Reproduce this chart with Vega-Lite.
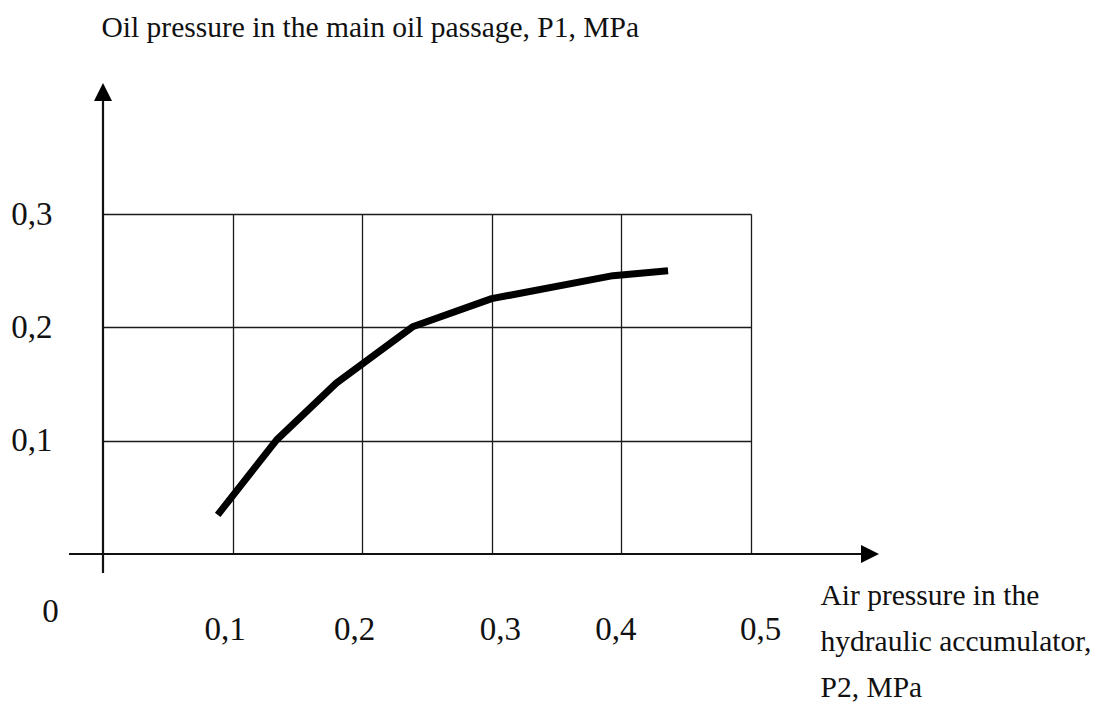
{
  "$schema": "https://vega.github.io/schema/vega-lite/v6.json",
  "width": 648,
  "height": 340,
  "autosize": {"type": "none"},
  "padding": {"left": 103, "top": 214, "right": 348, "bottom": 153},
  "background": "white",
  "config": {"view": {"stroke": null}, "font": "Liberation Serif"},
  "data": {"values": [
    {"p2": 0.0885, "p1": 0.0345},
    {"p2": 0.134, "p1": 0.1007},
    {"p2": 0.180, "p1": 0.1508},
    {"p2": 0.2394, "p1": 0.2008},
    {"p2": 0.2999, "p1": 0.2253},
    {"p2": 0.3935, "p1": 0.2456},
    {"p2": 0.436, "p1": 0.25}
  ]},
  "layer": [
    {
      "mark": {"type": "line", "color": "#000", "strokeWidth": 7, "strokeCap": "butt", "strokeJoin": "round", "clip": false},
      "encoding": {
        "x": {
          "field": "p2", "type": "quantitative",
          "scale": {"domain": [0, 0.5], "nice": false, "zero": false},
          "axis": {
            "values": [0.1, 0.2, 0.3, 0.4, 0.5],
            "domain": false, "ticks": false,
            "grid": true, "gridColor": "#1a1a1a", "gridWidth": 1.3, "gridOpacity": 1,
            "labelExpr": "replace(format(datum.value, '.1f'), '.', ',')",
            "labelFont": "Liberation Serif", "labelFontSize": 33, "labelColor": "#111",
            "labelPadding": 59, "labelBaseline": "top", "labelAlign": "center",
            "labelOffset": {"condition": [
              {"test": "abs(datum.value - 0.3) < 0.01", "value": 8},
              {"test": "abs(datum.value - 0.4) < 0.01", "value": -6},
              {"test": "abs(datum.value - 0.5) < 0.01", "value": 9}
            ], "value": -8},
            "labelOverlap": false, "labelFlush": false, "labelBound": false,
            "title": ["Air pressure in the", "hydraulic accumulator,", "P2, MPa"],
            "titleFont": "Liberation Serif", "titleFontSize": 29.5, "titleFontWeight": "normal", "titleColor": "#111",
            "titleAngle": 0, "titleAlign": "left", "titleBaseline": "alphabetic",
            "titleX": 717, "titleY": 50, "titleLineHeight": 46
          }
        },
        "y": {
          "field": "p1", "type": "quantitative",
          "scale": {"domain": [0, 0.3], "nice": false, "zero": false},
          "axis": {
            "values": [0.1, 0.2, 0.3],
            "domain": false, "ticks": false,
            "grid": true, "gridColor": "#1a1a1a", "gridWidth": 1.3, "gridOpacity": 1,
            "labelExpr": "replace(format(datum.value, '.1f'), '.', ',')",
            "labelFont": "Liberation Serif", "labelFontSize": 33, "labelColor": "#111",
            "labelPadding": 51, "labelBaseline": "middle", "labelAlign": "right",
            "labelOverlap": false, "labelFlush": false, "labelBound": false,
            "title": "Oil pressure in the main oil passage, P1, MPa",
            "titleFont": "Liberation Serif", "titleFontSize": 29.5, "titleFontWeight": "normal", "titleColor": "#111",
            "titleAngle": 0, "titleAlign": "left", "titleBaseline": "alphabetic",
            "titleX": -2, "titleY": -178
          }
        }
      }
    },
    {
      "data": {"values": [{}]},
      "mark": {"type": "rule", "color": "#111", "strokeWidth": 2.2, "clip": false},
      "encoding": {
        "x": {"datum": -0.0262, "type": "quantitative"},
        "x2": {"datum": 0.588},
        "y": {"datum": 0, "type": "quantitative"}
      }
    },
    {
      "data": {"values": [{}]},
      "mark": {"type": "rule", "color": "#111", "strokeWidth": 2.2, "clip": false},
      "encoding": {
        "x": {"datum": 0, "type": "quantitative"},
        "y": {"datum": -0.0168, "type": "quantitative"},
        "y2": {"datum": 0.40}
      }
    },
    {
      "data": {"values": [{}]},
      "mark": {"type": "point", "shape": "M1,0L-1,-1L-1,1Z", "size": 324, "filled": true, "color": "#000", "opacity": 1, "strokeWidth": 0, "clip": false},
      "encoding": {
        "x": {"datum": 0.5918, "type": "quantitative"},
        "y": {"datum": 0, "type": "quantitative"}
      }
    },
    {
      "data": {"values": [{}]},
      "mark": {"type": "point", "shape": "M0,-1L1,1L-1,1Z", "size": 324, "filled": true, "color": "#000", "opacity": 1, "strokeWidth": 0, "clip": false},
      "encoding": {
        "x": {"datum": 0, "type": "quantitative"},
        "y": {"datum": 0.4076, "type": "quantitative"}
      }
    },
    {
      "data": {"values": [{"label": "0"}]},
      "mark": {"type": "text", "font": "Liberation Serif", "fontSize": 33, "color": "#111", "align": "center", "baseline": "middle", "dx": -52.5, "dy": 57.5, "clip": false},
      "encoding": {
        "x": {"datum": 0, "type": "quantitative"},
        "y": {"datum": 0, "type": "quantitative"},
        "text": {"field": "label"}
      }
    }
  ]
}
